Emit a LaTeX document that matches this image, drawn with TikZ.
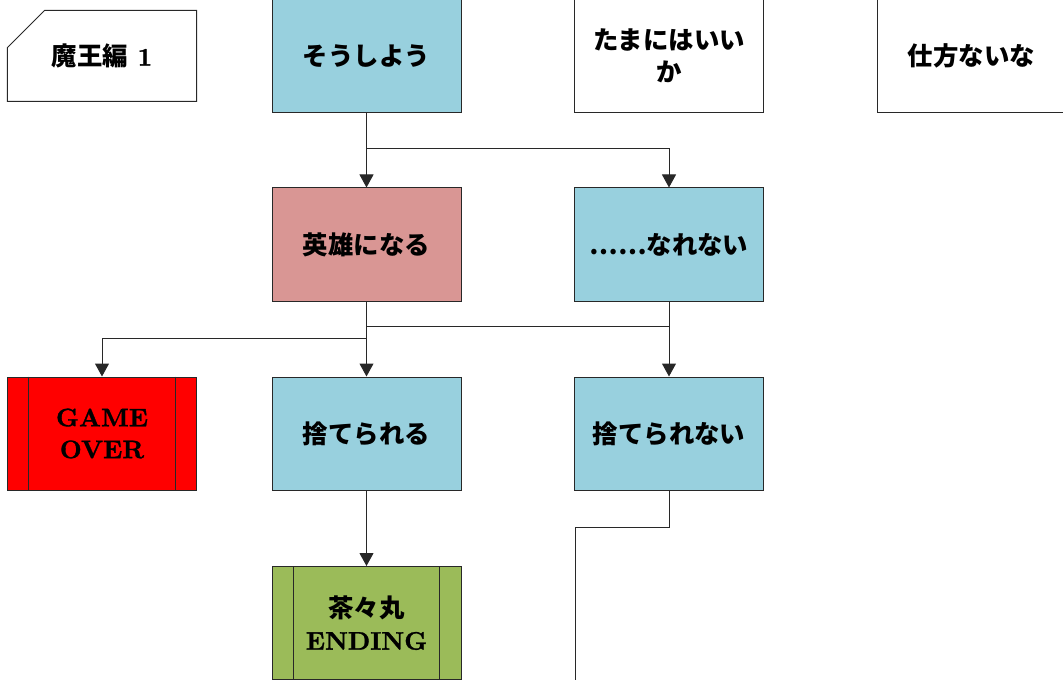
\documentclass[tikz,border=0pt]{standalone}
\usepackage{fontspec}
\setmainfont{lmroman10-regular.otf}[BoldFont=lmroman10-bold.otf,BoldFeatures={FakeBold=1.2}]
\newfontfamily\cjk{Noto Sans CJK JP}
\usetikzlibrary{arrows.meta}
\definecolor{boxblue}{RGB}{152,208,222}
\definecolor{boxpink}{RGB}{217,150,148}
\definecolor{boxgreen}{RGB}{155,187,89}
\definecolor{boxred}{RGB}{255,0,0}
\definecolor{linecol}{RGB}{40,40,40}
\tikzset{
  stepbox/.style={draw=linecol,line width=1bp,minimum width=189bp,minimum height=113bp,
    inner sep=0pt,align=center,font=\fontsize{25.5}{32}\selectfont\bfseries},
  endbox/.style={stepbox},
  link/.style={draw=linecol,line width=1bp},
  flow/.style={link,-{Triangle[width=14bp,length=13bp]}},
}
\begin{document}
\begin{tikzpicture}[x=1bp,y=-1bp]
  \useasboundingbox (0,0) rectangle (1063,680);
%%
  % Node: Mao
  \node (mao) [stepbox,minimum width=188bp,minimum height=90bp,draw=none] at (102,56) {{\cjk 魔王編} \bfseries 1};
  \draw [link] ([yshift=-37bp]mao.north west) -- ([xshift=37bp]mao.north west) -- (mao.north east)
    -- (mao.south east) -- (mao.south west) -- cycle;
  % Node: Soushiyou
  \node (sou) [stepbox,fill=boxblue] at (366.5,56) {\cjk そうしよう};
  % Node: Tamani
  \node (tama) [stepbox] at (669,56) {\cjk たまにはいい\\\cjk か};
  % Node: Shikata
  \node (shika) [stepbox] at (971.5,56) {\cjk 仕方ないな};
  % Node: Eiyu
  \node (eiyu) [stepbox,fill=boxpink] at (366.5,244.5) {\cjk 英雄になる};
  % Node: Narenai
  \node (nare) [stepbox,fill=boxblue] at (669,244.5) {\cjk ……なれない};
  % Node: GameOver
  \node (over) [endbox,fill=boxred] at (102,433.5) {\bfseries GAME\\\bfseries OVER};
  \draw [link] ([xshift=22bp]over.north west) -- ([xshift=22bp]over.south west);
  \draw [link] ([xshift=-22bp]over.north east) -- ([xshift=-22bp]over.south east);
  % Node: Suterareru
  \node (sute) [stepbox,fill=boxblue] at (366.5,433.5) {\cjk 捨てられる};
  % Node: Suterarenai
  \node (sutenai) [stepbox,fill=boxblue] at (669,433.5) {\cjk 捨てられない};
  % Node: Chachamaru
  \node (chacha) [endbox,fill=boxgreen] at (366.5,623) {{\cjk 茶々丸}\\\bfseries ENDING};
  \draw [link] ([xshift=22bp]chacha.north west) -- ([xshift=22bp]chacha.south west);
  \draw [link] ([xshift=-22bp]chacha.north east) -- ([xshift=-22bp]chacha.south east);
%%
  \coordinate (splitA) at (366.5,149);
  \coordinate (splitB) at (366.5,326);
  \coordinate (splitC) at (366.5,338);
  \coordinate (bendD) at (575,527);
  \coordinate (exitD) at (575,680);
  % Edge: Soushiyou -> Eiyu
  \draw [flow] (sou.south) -- (eiyu.north);
  % Edge: Soushiyou -> Narenai
  \draw [flow] (splitA) -| (nare.north);
  % Edge: Eiyu -> Suterareru
  \draw [flow] (eiyu.south) -- (sute.north);
  % Edge: Eiyu -> GameOver
  \draw [flow] (splitC) -| (over.north);
  % Edge: Narenai -> Suterarenai
  \draw [flow] (nare.south) -- (sutenai.north);
  % Edge: Narenai -> Suterareru
  \draw [link] (nare.south) |- (splitB);
  % Edge: Suterareru -> Chachamaru
  \draw [flow] (sute.south) -- (chacha.north);
  % Edge: Suterarenai -> out
  \draw [link] (sutenai.south) |- (bendD) -- (exitD);
%
\end{tikzpicture}
\end{document}
